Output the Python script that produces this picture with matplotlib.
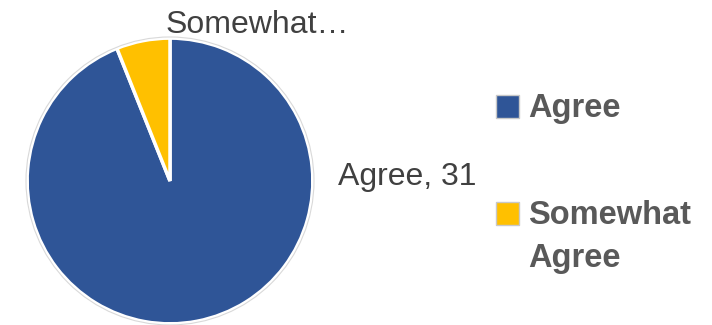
import matplotlib
matplotlib.use("Agg")
import matplotlib.pyplot as plt
from matplotlib.patches import Rectangle, Circle

# data
categories = ["Agree", "Somewhat Agree"]
counts = [31, 2]
legend_labels = ["Agree", "Somewhat\nAgree"]
colors = ["#2F5597", "#FFC000"]

plt.rcParams["font.family"] = ["Liberation Sans", "DejaVu Sans"]

fig = plt.figure(figsize=(7.12, 3.25), dpi=100)
fig.patch.set_facecolor("white")

# pie axes: centre ~ (170, 181) px, radius ~143 px
ax = fig.add_axes([0.0351, -0.003, 0.4073, 0.8923])
ax.pie(counts, colors=colors, startangle=90, counterclock=False, radius=1.0,
       wedgeprops=dict(edgecolor="white", linewidth=2.5))
ax.add_patch(Circle((0, 0), 1.008, fill=False, edgecolor="#d9d9d9", linewidth=0.8))
ax.set_xlim(-1.015, 1.015)
ax.set_ylim(-1.015, 1.015)
ax.set_aspect("equal")
ax.axis("off")

# data labels
fig.text(166 / 712, 1 - 33 / 325, "Somewhat\u2026", fontsize=23, color="#404040",
         ha="left", va="baseline")
fig.text(338 / 712, 1 - 185 / 325, f"{categories[0]}, {counts[0]}", fontsize=23,
         color="#404040", ha="left", va="baseline")

# legend (drawn by hand so the marker sits on the first line)
marker_cy = [106.5, 213.5]
last_base = [117, 267]   # baseline of each entry's last line, px from top
for col, lab, cy, base in zip(colors, legend_labels, marker_cy, last_base):
    fig.add_artist(Rectangle((496 / 712, 1 - (cy + 11.5) / 325), 23 / 712, 23 / 325,
                             transform=fig.transFigure, facecolor=col,
                             edgecolor="#c8c8c8", linewidth=1.0))
    fig.text(528 / 712, 1 - base / 325, lab, fontsize=23.5, fontweight="bold",
             color="#595959", ha="left", va="baseline", linespacing=1.5)

fig.savefig("out.png", dpi=100, facecolor="white")
